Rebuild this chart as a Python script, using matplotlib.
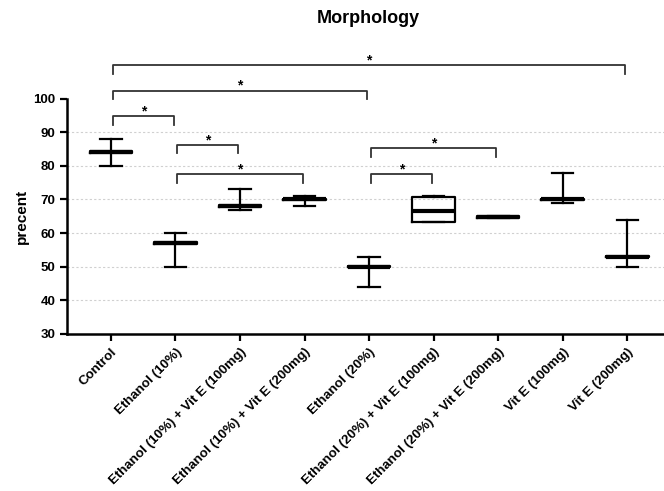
import matplotlib
matplotlib.use('Agg')
import matplotlib.pyplot as plt

plt.rcParams['font.family'] = ['Liberation Sans', 'DejaVu Sans']

# ---- Data
groups = ['Control', 'Ethanol (10%)', 'Ethanol (10%) + Vit E (100mg)',
          'Ethanol (10%) + Vit E (200mg)', 'Ethanol (20%)',
          'Ethanol (20%) + Vit E (100mg)', 'Ethanol (20%) + Vit E (200mg)',
          'Vit E (100mg)', 'Vit E (200mg)']
mins = [80, 50, 67, 68, 44, 63.2, 64.4, 69, 50]
q1s = [83.9, 56.8, 67.7, 69.8, 49.8, 63.3, 64.6, 69.8, 52.8]
medians = [84, 57, 68, 70, 50, 66.5, 64.8, 70, 53]
q3s = [84.3, 57.2, 68.3, 70.2, 50.2, 70.7, 65.0, 70.2, 53.2]
maxs = [88, 60, 73, 71, 53, 71, 65, 78, 64]

# significance brackets: (group a, group b, bracket height)
brackets = [(0, 8, 110.0), (0, 4, 102.4), (0, 1, 94.9), (1, 2, 86.3),
            (1, 3, 77.6), (4, 6, 85.3), (4, 5, 77.5)]

fig = plt.figure(figsize=(6.64, 4.91), dpi=100)
ax = fig.add_axes([0.101, 0.320, 0.899, 0.479])

stats = []
for i, g in enumerate(groups):
    stats.append(dict(label=g, whislo=mins[i], q1=q1s[i], med=medians[i],
                      q3=q3s[i], whishi=maxs[i], fliers=[]))

ax.bxp(stats, positions=range(len(groups)), widths=0.66, capwidths=0.33,
       showfliers=False,
       boxprops=dict(color='black', linewidth=1.6),
       whiskerprops=dict(color='black', linewidth=1.6),
       capprops=dict(color='black', linewidth=1.6),
       medianprops=dict(color='black', linewidth=3.0, solid_capstyle='butt'))

# ---- Axes styling
ax.set_xlim(-0.68, 8.57)
ax.set_ylim(30, 100)
ax.set_yticks(range(30, 101, 10))
for y in range(40, 100, 10):
    ax.axhline(y, color='#d0d0d0', linestyle=(0, (2, 2)), linewidth=0.8, zorder=0)
for side in ['top', 'right']:
    ax.spines[side].set_visible(False)
for side in ['left', 'bottom']:
    ax.spines[side].set_linewidth(1.8)
ax.tick_params(axis='both', width=1.6, length=5, labelsize=9.5)
ax.set_xticks(range(len(groups)))
ax.set_xticklabels(groups, rotation=45, ha='right', rotation_mode='anchor',
                   fontweight='bold', fontsize=9.6)
for lab in ax.get_yticklabels():
    lab.set_fontweight('bold')
ax.set_ylabel('precent', fontsize=11, fontweight='bold', labelpad=3)

# ---- Significance brackets
for a, b, h in brackets:
    ax.plot([a + 0.03, a + 0.03, b - 0.03, b - 0.03], [h - 2.6, h, h, h - 2.6],
            color='#333333', linewidth=1.3, clip_on=False)
    ax.text((a + b) / 2, h + 1.4, '*', ha='center', va='center', fontsize=10,
            fontweight='bold', clip_on=False)

fig.suptitle('Morphology', x=0.555, y=0.98, fontsize=13, fontweight='bold')

fig.savefig('out.png', dpi=100)
